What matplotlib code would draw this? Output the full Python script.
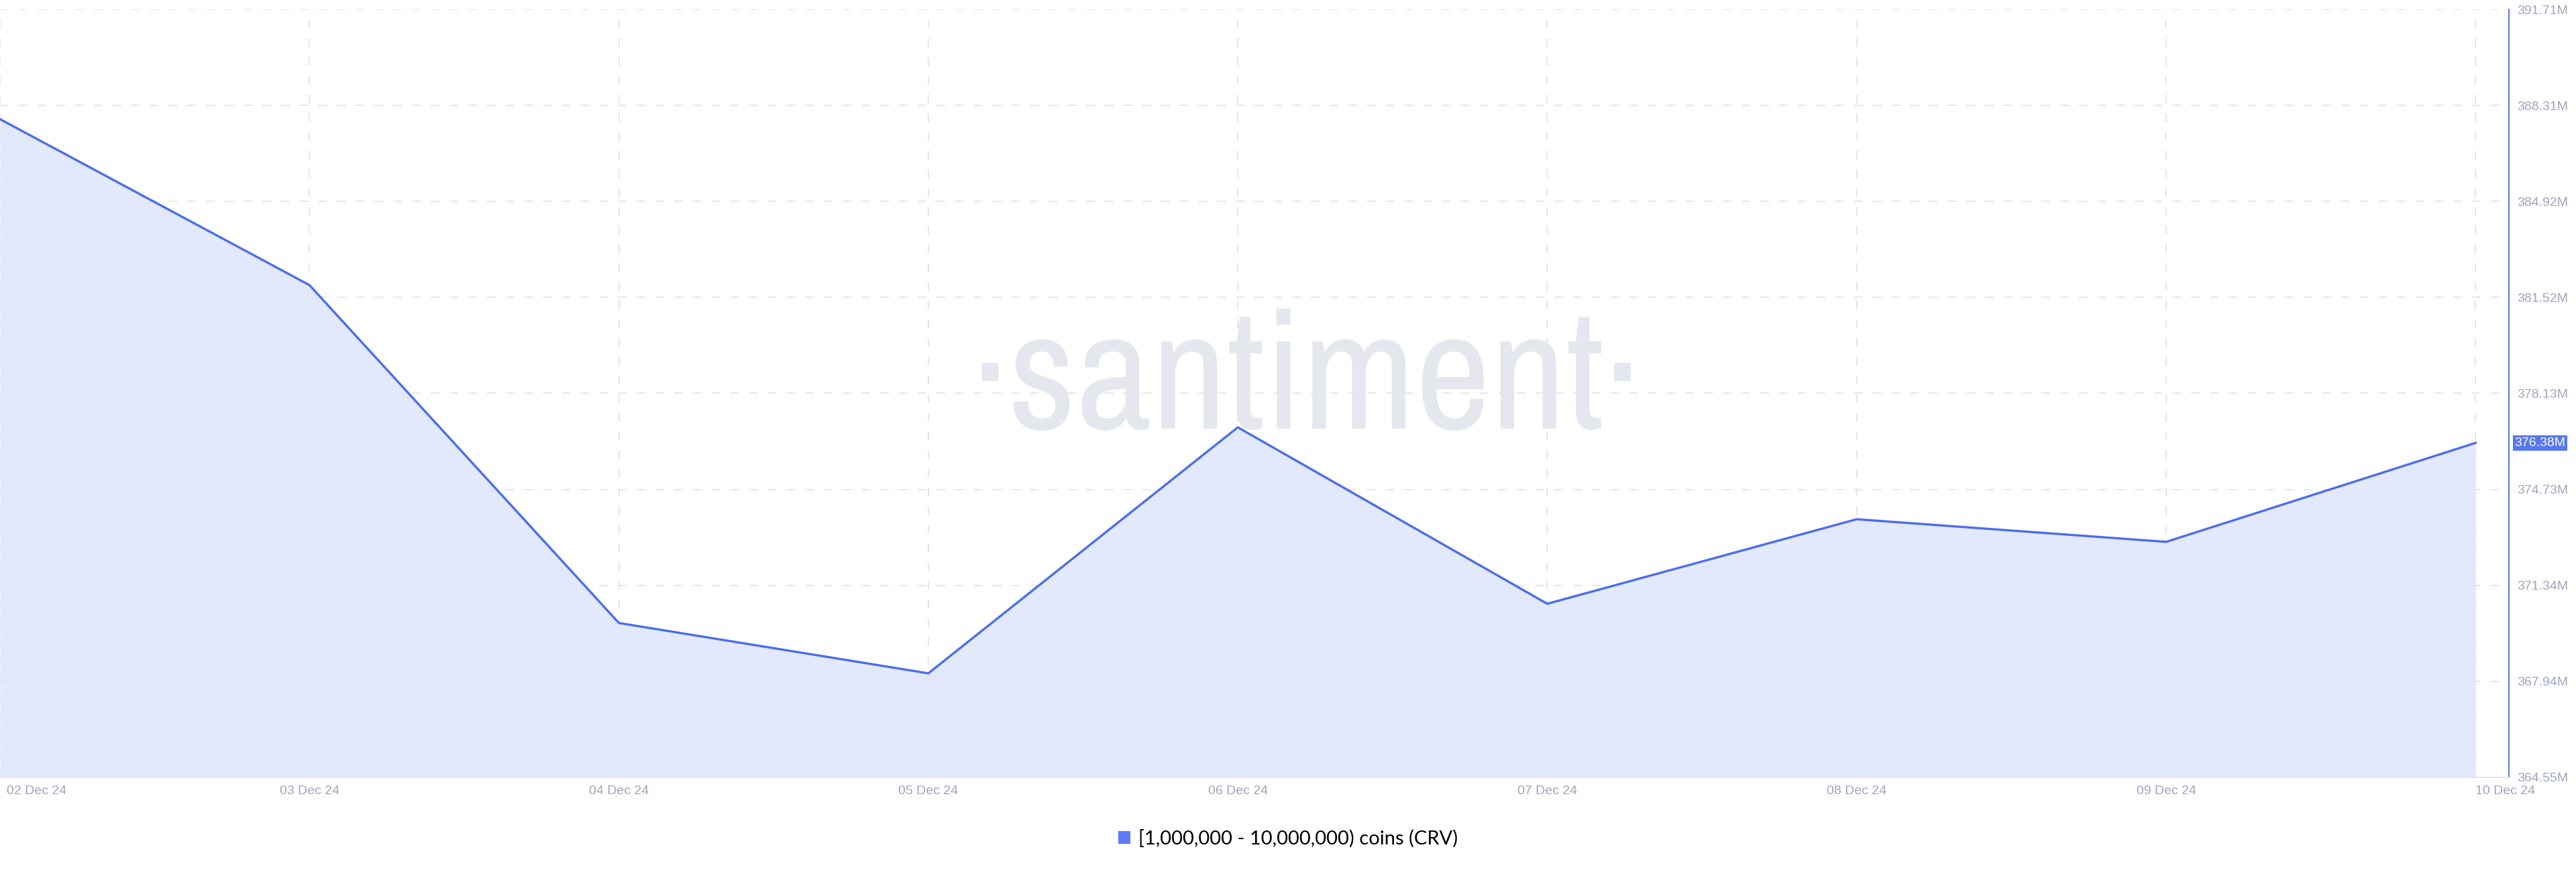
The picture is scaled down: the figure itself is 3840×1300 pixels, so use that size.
import matplotlib.pyplot as plt
from matplotlib import font_manager
from matplotlib.patches import Patch
from matplotlib.transforms import ScaledTranslation

# data
dates = ["02 Dec 24", "03 Dec 24", "04 Dec 24", "05 Dec 24", "06 Dec 24",
         "07 Dec 24", "08 Dec 24", "09 Dec 24", "10 Dec 24"]
holdings = [387.83, 381.96, 370.01, 368.23, 376.93, 370.69, 373.68, 372.88, 376.38]
y_ticks = [364.55, 367.945, 371.34, 374.735, 378.13, 381.525, 384.92, 388.315, 391.71]
y_tick_labels = ["364.55M", "367.94M", "371.34M", "374.73M", "378.13M",
                 "381.52M", "384.92M", "388.31M", "391.71M"]
series_name = "[1,000,000 - 10,000,000) coins (CRV)"
last_label = "376.38M"

line_color = "#4a6cf0"
fill_color = "#e3e9fc"
tick_color = "#9fa4bc"
grid_color = "#e6e7eb"
sans = ["Liberation Sans", "DejaVu Sans"]

fig = plt.figure(figsize=(38.4, 13), dpi=100)
ax = fig.add_axes([0.0, 0.1085, 0.974, 0.8807])

x = list(range(len(dates)))
ax.fill_between(x, holdings, y_ticks[0], color=fill_color, linewidth=0, zorder=1)
ax.plot(x, holdings, color=line_color, linewidth=2.4, zorder=2)

ax.set_xlim(0, 8.108)
ax.set_ylim(y_ticks[0], y_ticks[-1])

# grid
ax.set_axisbelow("line")
ax.grid(True, color=grid_color, linewidth=1.5, dashes=(6.2, 7.2))

# ticks
ax.yaxis.tick_right()
ax.set_yticks(y_ticks)
ax.set_yticklabels(y_tick_labels)
ax.set_xticks(x)
ax.set_xticklabels(dates)
ax.tick_params(axis="both", length=0, labelsize=14, labelcolor=tick_color)
ax.tick_params(axis="y", pad=8.5)
ax.tick_params(axis="x", pad=9)
for lbl in ax.get_xticklabels() + ax.get_yticklabels():
    lbl.set_fontfamily(sans)
xl = ax.get_xticklabels()
xl[0].set_ha("left")
xl[0].set_transform(xl[0].get_transform() + ScaledTranslation(0.1, 0, fig.dpi_scale_trans))
xl[-1].set_ha("left")

# spines
ax.spines["top"].set_visible(False)
ax.spines["left"].set_visible(False)
ax.spines["bottom"].set_color("#e4e4e8")
ax.spines["bottom"].set_linewidth(1.2)
ax.spines["right"].set_color("#4a70d0")
ax.spines["right"].set_linewidth(1.3)

# last value badge on the axis
ax.annotate(last_label, xy=(1, holdings[-1]), xycoords=("axes fraction", "data"),
            xytext=(6, 0), textcoords="offset points", va="center", ha="left",
            fontsize=14, color="white", family=sans,
            bbox=dict(boxstyle="square,pad=0.15", facecolor="#5777f0", edgecolor="none"),
            annotation_clip=False, zorder=5)

# watermark: use a narrow face if one is installed
wm_font = font_manager.FontProperties(family="DejaVu Sans")
for f in font_manager.fontManager.ttflist:
    if ("Narrow" in f.name or "Condensed" in f.name) and f.style == "normal":
        wm_font = font_manager.FontProperties(fname=f.fname)
        break
wm = ax.text(0.5206, 0.454, "·santiment·", transform=ax.transAxes, ha="center",
             va="baseline", fontproperties=wm_font, fontsize=150, color="#e5e7ef",
             zorder=0.8)
renderer = fig.canvas.get_renderer()
w = wm.get_window_extent(renderer).width
wm.set_fontsize(150 * 1000 / w)

# legend
fig.legend(handles=[Patch(facecolor="#5b7bf7", edgecolor="none")], labels=[series_name],
           loc="center", bbox_to_anchor=(0.5, 1 - 1250 / 1300), frameon=False,
           handlelength=0.6, handleheight=0.6, handletextpad=0.4,
           prop={"family": ["Lato", "DejaVu Sans"], "size": 21})

fig.savefig("out.png", dpi=100, facecolor="white")
